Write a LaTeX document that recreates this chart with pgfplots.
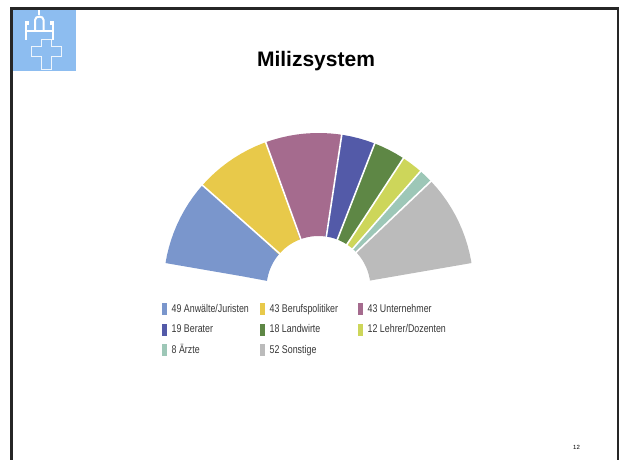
\documentclass[border=0pt]{standalone}
\usepackage{pgfplots}
\pgfplotsset{compat=1.18}
\usepackage{fontspec}
\setmainfont{Liberation Sans}
\newfontfamily\narrowfont[FakeStretch=0.79]{Liberation Sans}
\definecolor{cAnw}{RGB}{122,150,204}
\definecolor{cBer}{RGB}{232,201,74}
\definecolor{cUnt}{RGB}{165,107,142}
\definecolor{cBera}{RGB}{83,90,168}
\definecolor{cLand}{RGB}{94,135,69}
\definecolor{cLehr}{RGB}{205,214,90}
\definecolor{cArzt}{RGB}{157,199,183}
\definecolor{cSon}{RGB}{187,187,187}
\definecolor{logoblue}{RGB}{141,189,240}
\definecolor{legtext}{RGB}{55,55,55}
\begin{document}
\begin{tikzpicture}[x=1pt,y=1pt]
\path[use as bounding box] (0,0) rectangle (620,459);
% logo and slide frame (image coordinates, y downwards)
\begin{scope}[shift={(0,459)}, yscale=-1]
  \fill[logoblue] (12.5,9.5) rectangle (75.5,71);
  \draw[white, line width=0.9pt, opacity=0.85] (41.7,39) -- (51.7,39) -- (51.7,46) -- (61.7,46) -- (61.7,56) -- (51.7,56) -- (51.7,69) -- (41.7,69) -- (41.7,56) -- (31.7,56) -- (31.7,46) -- (41.7,46) -- cycle;
  \draw[white, line width=2pt] (39.3,10.5) -- (39.3,15);
  \draw[white, line width=2pt] (35,32) -- (35,20) .. controls (35,15.5) and (43.6,15.5) .. (43.6,20) -- (43.6,32);
  \fill[white] (24.5,21) rectangle (28.5,25.5);
  \draw[white, line width=2pt] (25.5,25) -- (25.5,40);
  \fill[white] (49.5,21) rectangle (53.5,25.5);
  \draw[white, line width=2pt] (52.5,25) -- (52.5,40);
  \draw[white, line width=2pt] (25,31.5) -- (53,31.5);
  \draw[black!85, line width=2.5pt] (11.3,460) -- (11.3,8.7) -- (618,8.7) -- (618,460);
\end{scope}
\node[anchor=base, font=\bfseries\fontsize{21}{24}\selectfont] at (316,459-67) {Milizsystem};
\node[anchor=base, font=\fontsize{6}{7}\selectfont] at (576.5,459-449.5) {12};
\begin{axis}[
  at={(0,0)}, anchor=south west,
  width=620pt, height=459pt, scale only axis,
  xmin=-318.5, xmax=301.5, ymin=-171, ymax=288,
  hide axis, clip=false,
  legend columns=3,
  legend cell align=left,
  legend image code/.code={\fill[#1, draw=none] (0pt,-6pt) rectangle (5pt,6pt);},
  legend style={at={(axis cs:-156.8,-14.7)}, anchor=north west,
    draw=none, fill=none, inner sep=0pt, outer sep=0pt,
    font=\narrowfont\fontsize{11.2}{12}\selectfont, text=legtext,
    row sep=8.8pt, nodes={inner sep=0pt, text height=9.4pt, text depth=2.5pt},
    /tikz/every odd column/.style={column sep=5pt},
    /tikz/every even column/.style={column sep=0pt}},
]
% half-doughnut: seats 49,43,43,19,18,12,8,52 (244) spread over 162 degrees from 171 to 9
\addplot[forget plot, draw=cAnw, line width=103pt, data cs=polar] coordinates {(171,103.5) (170.8,103.5) (168,103.5) (165,103.5) (162,103.5) (159,103.5) (156,103.5) (153,103.5) (150,103.5) (147,103.5) (144,103.5) (141,103.5) (138.667,103.5) (138.467,103.5)};
\addplot[forget plot, draw=cBer, line width=103pt, data cs=polar] coordinates {(138.467,103.5) (138.267,103.5) (135,103.5) (132,103.5) (129,103.5) (126,103.5) (123,103.5) (120,103.5) (117,103.5) (114,103.5) (111,103.5) (110.118,103.5) (109.918,103.5)};
\addplot[forget plot, draw=cUnt, line width=103pt, data cs=polar] coordinates {(109.918,103.5) (109.718,103.5) (107,103.5) (104,103.5) (101,103.5) (98,103.5) (95,103.5) (92,103.5) (89,103.5) (86,103.5) (83,103.5) (81.569,103.5) (81.369,103.5)};
\addplot[forget plot, draw=cBera, line width=103pt, data cs=polar] coordinates {(81.369,103.5) (81.169,103.5) (78,103.5) (75,103.5) (72,103.5) (68.954,103.5) (68.754,103.5)};
\addplot[forget plot, draw=cLand, line width=103pt, data cs=polar] coordinates {(68.754,103.5) (68.554,103.5) (66,103.5) (63,103.5) (60,103.5) (57.003,103.5) (56.803,103.5)};
\addplot[forget plot, draw=cLehr, line width=103pt, data cs=polar] coordinates {(56.803,103.5) (56.603,103.5) (54,103.5) (51,103.5) (49.036,103.5) (48.836,103.5)};
\addplot[forget plot, draw=cArzt, line width=103pt, data cs=polar] coordinates {(48.836,103.5) (48.636,103.5) (46,103.5) (43.725,103.5) (43.525,103.5)};
\addplot[forget plot, draw=cSon, line width=103pt, data cs=polar] coordinates {(43.525,103.5) (43.325,103.5) (40,103.5) (37,103.5) (34,103.5) (31,103.5) (28,103.5) (25,103.5) (22,103.5) (19,103.5) (16,103.5) (13,103.5) (10,103.5) (9.2,103.5) (9,103.5)};
% white separators between segments
\addplot[forget plot, draw=white, line width=1.6pt, data cs=polar] coordinates {(138.467,45) (138.467,162)};
\addplot[forget plot, draw=white, line width=1.6pt, data cs=polar] coordinates {(109.918,45) (109.918,162)};
\addplot[forget plot, draw=white, line width=1.6pt, data cs=polar] coordinates {(81.369,45) (81.369,162)};
\addplot[forget plot, draw=white, line width=1.6pt, data cs=polar] coordinates {(68.754,45) (68.754,162)};
\addplot[forget plot, draw=white, line width=1.6pt, data cs=polar] coordinates {(56.803,45) (56.803,162)};
\addplot[forget plot, draw=white, line width=1.6pt, data cs=polar] coordinates {(48.836,45) (48.836,162)};
\addplot[forget plot, draw=white, line width=1.6pt, data cs=polar] coordinates {(43.525,45) (43.525,162)};
% legend
\addlegendimage{fill=cAnw}\addlegendentry{\makebox[88pt][l]{49 Anwälte/Juristen}}
\addlegendimage{fill=cBer}\addlegendentry{\makebox[88pt][l]{43 Berufspolitiker}}
\addlegendimage{fill=cUnt}\addlegendentry{43 Unternehmer}
\addlegendimage{fill=cBera}\addlegendentry{\makebox[88pt][l]{19 Berater}}
\addlegendimage{fill=cLand}\addlegendentry{\makebox[88pt][l]{18 Landwirte}}
\addlegendimage{fill=cLehr}\addlegendentry{12 Lehrer/Dozenten}
\addlegendimage{fill=cArzt}\addlegendentry{\makebox[88pt][l]{8 Ärzte}}
\addlegendimage{fill=cSon}\addlegendentry{\makebox[88pt][l]{52 Sonstige}}
\end{axis}
\end{tikzpicture}
\end{document}
